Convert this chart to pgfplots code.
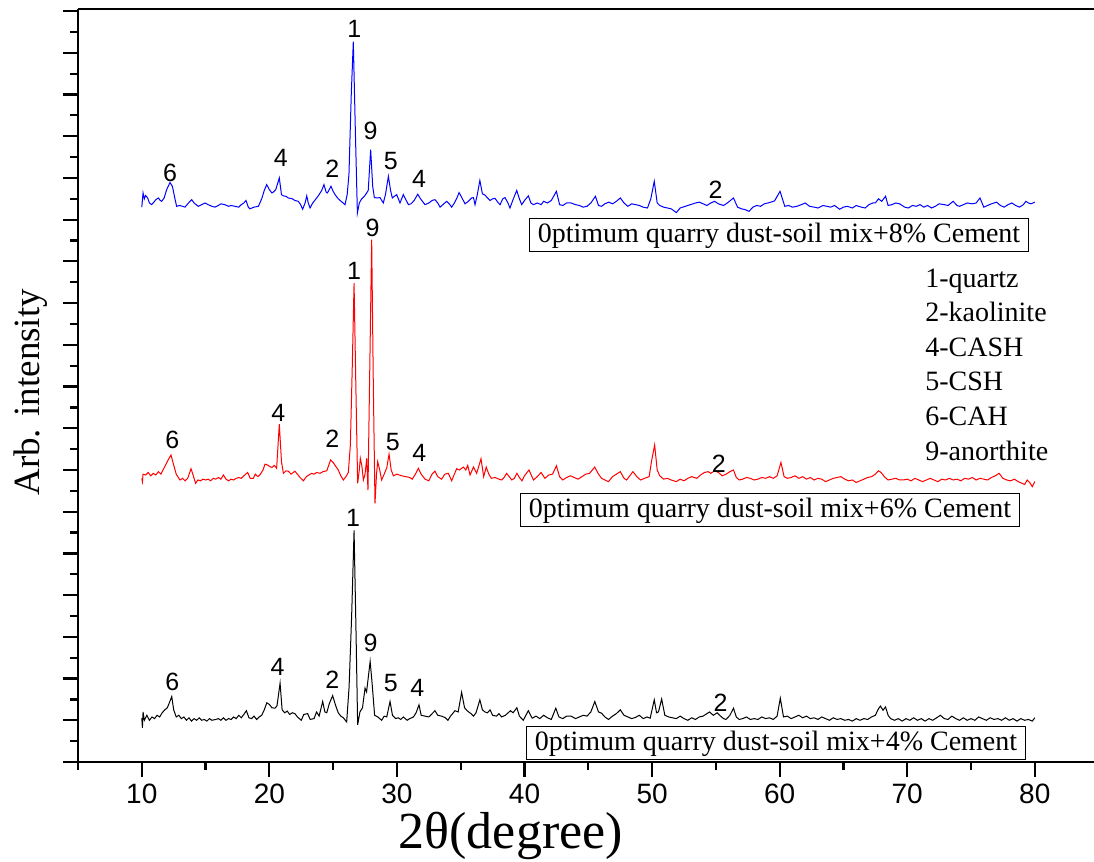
\documentclass[border=0pt]{standalone}
\usepackage{fontspec}
\setmainfont{Liberation Serif}
\newfontfamily\arial{Liberation Sans}
\usepackage{pgfplots}
\pgfplotsset{compat=1.18}
\begin{document}
\begin{tikzpicture}
\begin{axis}[
  scale only axis, width=508pt, height=376.5pt,
  xmin=5, xmax=84.64, ymin=0, ymax=1805,
  axis x line*=bottom, axis y line*=left,
  axis line style={line width=1.4pt},
  every tick/.append style={line width=1.1pt, black},
  tick align=outside,
  major tick length=7.5pt, minor tick length=4pt,
  xtick={10,20,...,80}, minor xtick={5,15,...,75},
  ytick={0,100,...,1800}, minor ytick={50,150,...,1750},
  yticklabels={},
  xticklabel style={font=\arial\fontsize{14}{16}\selectfont},
  /pgf/number format/assume math mode=true,
  clip=false,
  xlabel={2θ(degree)}, ylabel={Arb. intensity},
  every axis x label/.style={at={(rel axis cs:0.426,-0.1155)}, anchor=base, font=\fontsize{26}{28}\selectfont},
  every axis y label/.style={at={(rel axis cs:-0.0463,0.491)}, anchor=center, rotate=90, font=\fontsize{18.5}{20}\selectfont},
]
\coordinate (bl) at (rel axis cs:0,0);
\coordinate (tr) at (rel axis cs:1,1);

% black: 4% cement
\addplot[black, line width=0.5pt] coordinates {
(10.00,105)(10.05,82)(10.10,120)(10.2,100)(10.4,112)(10.6,100)(10.8,108)(11.0,104)(11.2,112)(11.4,108)(11.6,118)(11.8,125)(12.0,130)(12.2,145)(12.35,157)(12.5,125)(12.7,108)(12.9,112)(13.1,104)(13.3,108)(13.5,100)(13.7,106)(13.9,98)(14.1,104)(14.3,100)(14.5,106)(14.7,100)(14.9,102)(15.1,98)(15.3,104)(15.5,100)(15.8,102)(16.0,104)(16.2,100)(16.4,106)(16.6,100)(16.8,104)(17.0,102)(17.2,108)(17.4,104)(17.6,112)(17.8,106)(18.0,114)(18.2,123)(18.4,106)(18.6,104)(18.8,110)(19.0,102)(19.2,108)(19.4,112)(19.6,125)(19.8,142)(20.0,138)(20.2,130)(20.45,129)(20.6,135)(20.84,189)(21.0,125)(21.2,118)(21.4,122)(21.6,114)(21.8,118)(22.0,116)(22.2,108)(22.5,100)(22.7,114)(23.0,116)(23.2,102)(23.5,104)(23.7,120)(23.9,110)(24.18,145)(24.35,120)(24.5,118)(24.7,140)(24.96,159)(25.2,135)(25.4,118)(25.6,110)(25.8,106)(26.06,96)(26.25,180)(26.45,350)(26.64,555)(26.8,300)(26.92,89)(27.1,120)(27.3,130)(27.5,177)(27.62,168)(27.9,241)(28.05,190)(28.25,112)(28.5,108)(28.8,100)(29.0,110)(29.2,108)(29.46,145)(29.65,112)(29.9,104)(30.1,106)(30.3,102)(30.5,108)(30.8,100)(31.0,104)(31.3,108)(31.5,118)(31.73,137)(31.9,112)(32.2,110)(32.5,108)(32.7,114)(32.98,123)(33.2,112)(33.5,110)(33.8,106)(34.0,100)(34.2,110)(34.55,123)(34.8,120)(35.07,167)(35.3,130)(35.5,123)(35.8,116)(36.0,110)(36.2,118)(36.5,149)(36.7,125)(36.9,120)(37.1,118)(37.3,125)(37.5,112)(37.8,110)(38.0,116)(38.2,108)(38.5,112)(38.9,123)(39.1,118)(39.4,130)(39.6,110)(39.9,100)(40.3,123)(40.6,105)(40.9,110)(41.2,104)(41.5,112)(41.8,106)(42.1,102)(42.45,129)(42.7,108)(43.0,104)(43.3,110)(43.65,110)(44.0,104)(44.3,108)(44.6,112)(44.9,110)(45.2,120)(45.51,145)(45.8,120)(46.04,117)(46.3,108)(46.58,102)(46.9,110)(47.2,116)(47.51,125)(47.8,112)(48.1,108)(48.4,104)(48.71,107)(49.0,112)(49.3,104)(49.6,108)(49.85,105)(50.17,149)(50.35,118)(50.5,120)(50.75,151)(51.0,112)(51.3,108)(51.6,106)(51.9,104)(52.2,110)(52.5,104)(52.8,100)(53.1,106)(53.4,102)(53.7,108)(54.0,110)(54.3,116)(54.5,120)(54.8,112)(55.1,118)(55.37,110)(55.6,104)(55.8,102)(56.1,112)(56.38,129)(56.6,108)(56.83,102)(57.1,104)(57.4,108)(57.7,102)(58.0,104)(58.3,102)(58.6,108)(58.9,104)(59.2,106)(59.5,102)(59.8,110)(60.05,153)(60.3,108)(60.6,110)(60.9,104)(61.2,108)(61.5,112)(61.8,106)(62.1,110)(62.4,104)(62.7,106)(63.0,102)(63.3,108)(63.6,104)(63.9,100)(64.2,106)(64.5,102)(64.8,104)(65.1,100)(65.4,102)(65.7,98)(66.0,104)(66.3,100)(66.6,104)(66.9,102)(67.2,108)(67.5,112)(67.75,128)(67.9,134)(68.1,124)(68.3,132)(68.5,112)(68.7,104)(69.0,100)(69.3,104)(69.6,98)(69.9,104)(70.2,100)(70.5,106)(70.8,100)(71.1,104)(71.4,98)(71.7,104)(72.0,100)(72.3,106)(72.6,112)(72.9,104)(73.2,102)(73.5,110)(73.8,104)(74.1,100)(74.4,106)(74.7,100)(75.0,104)(75.3,100)(75.6,108)(75.9,104)(76.2,100)(76.5,106)(76.8,102)(77.1,104)(77.4,100)(77.7,106)(78.0,100)(78.3,104)(78.6,98)(78.9,104)(79.2,100)(79.5,102)(79.8,98)(80.0,106)
};

% red: 6% cement
\addplot[red, line width=0.5pt] coordinates {
(10.0,680)(10.05,672)(10.1,690)(10.3,688)(10.5,694)(10.7,686)(10.9,692)(11.1,688)(11.3,696)(11.5,690)(11.7,702)(11.9,714)(12.1,726)(12.29,736)(12.5,712)(12.7,690)(12.99,676)(13.2,680)(13.39,674)(13.6,680)(13.86,703)(14.0,690)(14.22,668)(14.4,676)(14.6,674)(14.8,678)(15.0,676)(15.2,678)(15.4,674)(15.6,680)(15.8,678)(16.0,682)(16.2,678)(16.4,688)(16.6,678)(16.8,674)(17.0,678)(17.2,676)(17.4,680)(17.6,682)(17.8,680)(18.0,686)(18.3,694)(18.5,680)(18.74,680)(18.9,690)(19.1,684)(19.3,690)(19.5,700)(19.66,714)(19.85,712)(20.05,708)(20.2,706)(20.39,711)(20.57,704)(20.78,810)(20.95,720)(21.1,692)(21.3,698)(21.49,697)(21.7,690)(22.0,697)(22.2,690)(22.4,682)(22.67,674)(22.9,684)(23.1,688)(23.3,692)(23.5,690)(23.7,694)(23.97,692)(24.2,696)(24.5,698)(24.8,724)(25.0,718)(25.15,711)(25.4,700)(25.6,686)(25.8,676)(26.0,684)(26.19,694)(26.35,760)(26.5,950)(26.64,1148)(26.78,900)(26.92,668)(27.05,700)(27.13,728)(27.25,710)(27.37,676)(27.5,690)(27.63,728)(27.73,652)(27.85,900)(28.02,1252)(28.15,900)(28.28,620)(28.4,690)(28.49,720)(28.65,700)(28.8,676)(29.0,690)(29.2,705)(29.38,738)(29.55,700)(29.72,686)(30.0,690)(30.37,686)(30.7,684)(31.0,682)(31.2,678)(31.45,690)(31.68,704)(31.9,690)(32.2,678)(32.5,674)(32.75,690)(32.98,697)(33.2,684)(33.5,678)(33.75,690)(34.03,692)(34.29,674)(34.5,690)(34.68,703)(34.9,700)(35.2,707)(35.4,700)(35.55,711)(35.73,688)(36.0,707)(36.25,692)(36.59,727)(36.8,684)(37.0,707)(37.2,690)(37.4,680)(37.7,682)(38.0,678)(38.2,676)(38.4,682)(38.6,692)(38.8,684)(39.0,676)(39.2,680)(39.4,692)(39.6,682)(39.8,674)(40.0,686)(40.35,700)(40.7,676)(41.0,684)(41.3,694)(41.6,680)(41.9,688)(42.2,690)(42.5,710)(42.75,684)(43.0,676)(43.3,682)(43.6,686)(43.9,682)(44.2,678)(44.5,684)(44.8,690)(45.1,692)(45.5,707)(45.8,690)(46.04,680)(46.3,676)(46.58,672)(46.9,684)(47.2,690)(47.51,696)(47.8,680)(48.0,676)(48.3,688)(48.5,696)(48.8,684)(49.1,676)(49.4,680)(49.77,684)(49.95,720)(50.2,760)(50.4,700)(50.6,686)(50.9,678)(51.2,680)(51.5,676)(51.9,672)(52.2,678)(52.5,674)(52.8,680)(53.1,684)(53.5,680)(53.8,688)(54.1,694)(54.4,696)(54.6,692)(54.9,698)(55.2,694)(55.5,686)(55.8,690)(56.1,696)(56.38,700)(56.6,682)(56.83,676)(57.1,678)(57.4,682)(57.7,680)(58.0,676)(58.3,678)(58.6,682)(58.9,680)(59.2,684)(59.5,680)(59.8,686)(60.1,718)(60.35,684)(60.6,680)(60.9,682)(61.2,686)(61.5,680)(61.8,684)(62.1,678)(62.4,682)(62.7,676)(63.0,680)(63.3,678)(63.6,672)(63.9,676)(64.2,680)(64.5,682)(64.8,684)(65.1,678)(65.4,674)(65.7,676)(66.0,670)(66.3,674)(66.6,678)(66.9,682)(67.2,684)(67.5,690)(67.75,698)(67.95,694)(68.2,684)(68.5,676)(68.8,678)(69.1,680)(69.4,676)(69.7,676)(70.0,678)(70.3,674)(70.6,680)(70.9,676)(71.2,672)(71.5,676)(71.8,680)(72.1,676)(72.4,672)(72.7,678)(73.0,676)(73.3,680)(73.6,676)(73.9,678)(74.2,674)(74.5,680)(74.8,678)(75.1,682)(75.4,676)(75.7,680)(76.0,678)(76.3,676)(76.6,682)(76.9,686)(77.2,692)(77.5,680)(77.8,676)(78.1,674)(78.4,678)(78.7,672)(79.0,668)(79.2,665)(79.4,676)(79.6,670)(79.8,660)(80.0,672)
};

% blue: 8% cement
\addplot[blue, line width=0.5pt] coordinates {
(10.0,1330)(10.1,1364)(10.2,1350)(10.3,1358)(10.46,1352)(10.6,1340)(10.77,1336)(10.95,1342)(11.1,1348)(11.3,1352)(11.45,1346)(11.56,1344)(11.75,1352)(11.95,1372)(12.21,1389)(12.4,1380)(12.6,1350)(12.73,1332)(12.95,1334)(13.2,1332)(13.39,1330)(13.6,1338)(13.91,1348)(14.1,1340)(14.43,1332)(14.7,1336)(14.96,1340)(15.2,1336)(15.5,1332)(15.74,1330)(16.0,1334)(16.2,1338)(16.5,1336)(16.8,1332)(17.0,1334)(17.3,1332)(17.6,1330)(17.8,1336)(18.0,1340)(18.17,1346)(18.35,1330)(18.48,1326)(18.8,1330)(19.14,1332)(19.4,1350)(19.6,1370)(19.79,1384)(20.0,1372)(20.2,1364)(20.31,1366)(20.5,1372)(20.78,1400)(20.95,1360)(21.1,1357)(21.3,1356)(21.49,1352)(21.8,1350)(22.0,1346)(22.27,1344)(22.45,1336)(22.61,1325)(22.8,1340)(22.93,1357)(23.05,1340)(23.19,1328)(23.4,1340)(23.71,1352)(23.9,1360)(24.1,1370)(24.28,1384)(24.45,1366)(24.55,1364)(24.83,1380)(25.0,1368)(25.15,1360)(25.4,1350)(25.7,1342)(25.93,1336)(26.1,1360)(26.24,1409)(26.42,1600)(26.58,1727)(26.75,1500)(26.9,1316)(27.05,1340)(27.24,1350)(27.45,1356)(27.63,1364)(27.75,1370)(27.94,1468)(28.1,1380)(28.23,1353)(28.45,1352)(28.67,1353)(28.93,1340)(29.1,1360)(29.33,1404)(29.5,1370)(29.64,1352)(29.8,1356)(29.98,1360)(30.24,1340)(30.5,1360)(30.7,1348)(30.9,1336)(31.1,1338)(31.35,1346)(31.63,1361)(31.85,1350)(32.0,1344)(32.2,1336)(32.5,1340)(32.75,1346)(32.98,1348)(33.2,1340)(33.38,1330)(33.6,1336)(33.9,1344)(34.1,1338)(34.29,1330)(34.5,1340)(34.7,1352)(34.87,1365)(35.1,1352)(35.34,1338)(35.6,1344)(35.85,1352)(36.0,1353)(36.12,1336)(36.3,1360)(36.5,1394)(36.7,1362)(36.9,1359)(37.1,1352)(37.3,1346)(37.5,1350)(37.69,1351)(37.9,1342)(38.08,1336)(38.3,1350)(38.47,1353)(38.7,1340)(38.86,1328)(39.1,1348)(39.39,1370)(39.6,1350)(39.78,1336)(40.0,1346)(40.3,1357)(40.5,1340)(40.7,1336)(41.0,1340)(41.3,1336)(41.5,1344)(41.8,1340)(42.1,1346)(42.5,1368)(42.75,1336)(43.0,1334)(43.3,1340)(43.65,1340)(44.0,1336)(44.3,1334)(44.6,1330)(44.9,1332)(45.2,1340)(45.56,1356)(45.8,1334)(46.04,1332)(46.3,1338)(46.6,1342)(46.9,1338)(47.2,1344)(47.51,1352)(47.8,1340)(48.1,1332)(48.4,1338)(48.7,1336)(49.0,1334)(49.3,1330)(49.64,1328)(49.9,1350)(50.17,1392)(50.4,1340)(50.6,1334)(50.9,1330)(51.2,1328)(51.5,1326)(51.9,1317)(52.2,1328)(52.6,1332)(53.0,1336)(53.4,1340)(53.7,1342)(54.0,1338)(54.3,1334)(54.6,1340)(54.9,1344)(55.2,1338)(55.6,1334)(55.9,1340)(56.38,1352)(56.7,1330)(57.0,1326)(57.3,1324)(57.6,1320)(57.9,1330)(58.2,1334)(58.5,1332)(58.8,1338)(59.2,1341)(59.6,1345)(60.03,1368)(60.4,1332)(60.7,1334)(61.0,1330)(61.35,1332)(61.7,1336)(62.0,1340)(62.35,1332)(62.7,1330)(63.0,1328)(63.4,1334)(63.7,1332)(64.0,1330)(64.3,1334)(64.7,1325)(65.0,1330)(65.3,1332)(65.7,1328)(66.0,1334)(66.4,1330)(66.7,1328)(67.0,1336)(67.3,1340)(67.5,1340)(67.75,1350)(68.0,1344)(68.3,1356)(68.5,1334)(68.8,1336)(69.1,1340)(69.4,1338)(69.8,1330)(70.1,1328)(70.4,1334)(70.7,1332)(71.0,1336)(71.3,1330)(71.6,1334)(71.9,1328)(72.2,1332)(72.5,1338)(72.9,1336)(73.2,1334)(73.6,1344)(73.9,1334)(74.1,1332)(74.4,1336)(74.7,1340)(75.1,1338)(75.4,1340)(75.7,1352)(76.0,1330)(76.3,1334)(76.6,1338)(77.0,1342)(77.3,1334)(77.6,1330)(77.9,1336)(78.2,1340)(78.5,1334)(78.8,1330)(79.1,1336)(79.3,1344)(79.5,1340)(79.7,1338)(80.0,1342)
};

% top frame line
\draw[line width=1.4pt, black] (axis description cs:0,1) -- (axis description cs:1,1);

% peak labels
\tikzset{pk/.style={font=\arial\fontsize{12.5}{14}\selectfont, inner sep=0pt, anchor=center}}
\node[pk] at (axis cs:12.21,1412) {6};
\node[pk] at (axis cs:20.89,1447) {4};
\node[pk] at (axis cs:24.94,1422) {2};
\node[pk] at (axis cs:26.66,1757) {1};
\node[pk] at (axis cs:27.94,1513) {9};
\node[pk] at (axis cs:29.53,1440) {5};
\node[pk] at (axis cs:31.73,1398) {4};
\node[pk] at (axis cs:54.97,1371) {2};
\node[pk] at (axis cs:12.39,772) {6};
\node[pk] at (axis cs:20.70,836) {4};
\node[pk] at (axis cs:24.94,774) {2};
\node[pk] at (axis cs:26.64,1176) {1};
\node[pk] at (axis cs:28.10,1280) {9};
\node[pk] at (axis cs:29.67,768) {5};
\node[pk] at (axis cs:31.76,740) {4};
\node[pk] at (axis cs:55.23,714) {2};
\node[pk] at (axis cs:12.39,192) {6};
\node[pk] at (axis cs:20.65,228) {4};
\node[pk] at (axis cs:24.94,198) {2};
\node[pk] at (axis cs:26.56,585) {1};
\node[pk] at (axis cs:27.94,286) {9};
\node[pk] at (axis cs:29.53,190) {5};
\node[pk] at (axis cs:31.60,177) {4};
\node[pk] at (axis cs:55.36,142) {2};

% sample boxes
\tikzset{bx/.style={draw, line width=0.6pt, inner xsep=4pt, inner ysep=0pt, text height=12pt, text depth=4.5pt, font=\fontsize{14}{16}\selectfont, anchor=center}}
\node[bx] at (axis cs:59.95,1264) {0ptimum quarry dust-soil mix+8\% Cement};
\node[bx] at (axis cs:59.24,604) {0ptimum quarry dust-soil mix+6\% Cement};
\node[bx] at (axis cs:59.71,45) {0ptimum quarry dust-soil mix+4\% Cement};

% phase key
\tikzset{lg/.style={font=\fontsize{14}{16}\selectfont, inner sep=0pt, anchor=base west}}
\node[lg] at (axis cs:71.39,1137) {1-quartz};
\node[lg] at (axis cs:71.39,1056) {2-kaolinite};
\node[lg] at (axis cs:71.39,971) {4-CASH};
\node[lg] at (axis cs:71.39,890) {5-CSH};
\node[lg] at (axis cs:71.39,806) {6-CAH};
\node[lg] at (axis cs:71.39,722) {9-anorthite};
\end{axis}
\pgfresetboundingbox
\path[use as bounding box] ([shift={(-39pt,-49.5pt)}]bl) rectangle ([shift={(0pt,4.5pt)}]tr);
\end{tikzpicture}
\end{document}
